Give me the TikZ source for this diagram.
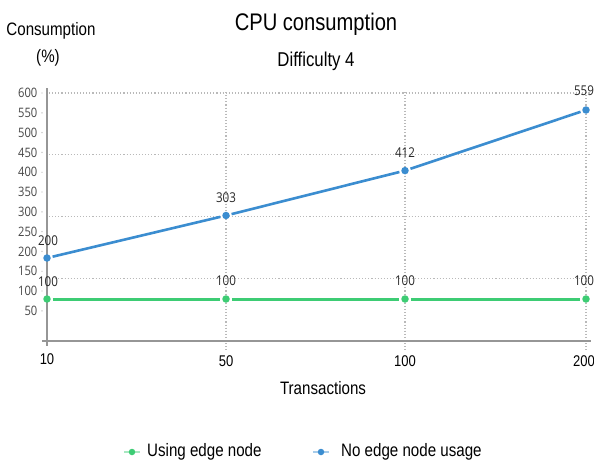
\documentclass[tikz,border=0pt]{standalone}
\usepackage{fontspec}
\setmainfont{Liberation Sans}
\newfontfamily\narrowfont[FakeStretch=0.84]{Liberation Sans}
\newfontfamily\numfont[FakeStretch=0.86]{Open Sans}
\definecolor{lineblue}{RGB}{59,141,208}
\definecolor{linegreen}{RGB}{61,204,116}
\definecolor{axisgray}{RGB}{150,150,150}
\definecolor{gridgray}{RGB}{185,185,185}
\definecolor{ticktext}{RGB}{70,70,70}
\definecolor{valtext}{RGB}{40,40,40}
\tikzset{
  titletext/.style={font=\narrowfont\fontsize{24}{28}\selectfont, text=black, inner sep=0pt},
  subtitletext/.style={font=\narrowfont\fontsize{20}{24}\selectfont, text=black, inner sep=0pt},
  labeltext/.style={font=\narrowfont\fontsize{18}{21}\selectfont, text=black, inner sep=0pt},
  ytick/.style={font=\numfont\fontsize{13}{15}\selectfont, text=ticktext, anchor=east, inner sep=0pt},
  xtick/.style={font=\narrowfont\fontsize{15.5}{17}\selectfont, text=black, inner sep=0pt},
  vallabel/.style={font=\numfont\fontsize{13.5}{15}\selectfont, text=valtext, inner sep=0pt},
  gridline/.style={gridgray, line width=1.1pt, dotted},
  bluedot/.style={circle, fill=lineblue, minimum size=7.5pt, inner sep=0pt, outer sep=2pt},
  greendot/.style={circle, fill=linegreen, minimum size=7.5pt, inner sep=0pt, outer sep=2pt},
  blueline/.style={lineblue, line width=2.6pt},
  greenline/.style={linegreen, line width=3pt},
}
\begin{document}
\begin{tikzpicture}[x=1pt, y=-1pt]
\useasboundingbox[fill=white] (0,0) rectangle (594,463);

% titles
\node[titletext] (title) at (316,24.5) {CPU consumption};
\node[subtitletext] (subtitle) at (316,61) {Difficulty 4};
\node[labeltext] (ylab) at (51,31) {Consumption};
\node[labeltext] (ylabunit) at (48,57.5) {(\%)};

% grid
\foreach \yy in {93,154.8,216.6,278.4}
  \draw[gridline] (49,\yy) -- (590,\yy);
\foreach \xx in {226,405,586}
  \draw[gridline] (\xx,92) -- (\xx,350);

% axes
\coordinate (yaxtop) at (47,88);
\coordinate (yaxbot) at (47,346);
\coordinate (xaxleft) at (42,341);
\coordinate (xaxright) at (591,341);
\draw[axisgray, line width=1.3pt] (yaxtop) -- (yaxbot);
\draw[axisgray, line width=2pt] (xaxleft) -- (xaxright);

% y tick labels
\foreach \v [count=\i from 0] in {600,550,500,450,400,350,300,250,200,150,100,50} {
  \node[ytick] (yt\v) at (37.5,93+19.8*\i) {\v};
  \fill[gridgray] (42,93+19.8*\i) circle (0.7pt);
}

% x tick labels
\node[xtick] (xt10) at (47,359) {10};
\node[xtick] (xt50) at (226,361) {50};
\node[xtick] (xt100) at (405,361) {100};
\node[xtick, anchor=east] (xt200) at (595,361) {200};
\node[labeltext] (xlab) at (323,388) {Transactions};

% data: no edge node usage
\node[bluedot] (b1) at (47,258) {};
\node[bluedot] (b2) at (226,215.5) {};
\node[bluedot] (b3) at (405,170.6) {};
\node[bluedot] (b4) at (586,110) {};
\draw[blueline] (b1) -- (b2) -- (b3) -- (b4);

% data: using edge node
\node[greendot] (g1) at (47,299) {};
\node[greendot] (g2) at (226,299) {};
\node[greendot] (g3) at (405,299) {};
\node[greendot] (g4) at (586,299) {};
\draw[greenline] (g1) -- (g2) -- (g3) -- (g4);

% value labels
\node[vallabel] (vb1) at (48,240.5) {200};
\node[vallabel] (vb2) at (226,197.5) {303};
\node[vallabel] (vb3) at (405,153) {412};
\node[vallabel] (vb4) at (584,91) {559};
\node[vallabel] (vg1) at (48,282) {100};
\node[vallabel] (vg2) at (226,281) {100};
\node[vallabel] (vg3) at (405,281) {100};
\node[vallabel] (vg4) at (584,281) {100};

% legend
\coordinate (lgA) at (124,452);
\coordinate (lgB) at (140,452);
\draw[linegreen!45, line width=1.2pt] (lgA) -- (lgB);
\node[greendot, minimum size=6.5pt] (lgdot) at (132,452) {};
\node[labeltext, anchor=west] (lgtext) at (147,452) {Using edge node};
\coordinate (lbA) at (313,452);
\coordinate (lbB) at (329,452);
\draw[lineblue!45, line width=1.2pt] (lbA) -- (lbB);
\node[bluedot, minimum size=6.5pt] (lbdot) at (321,452) {};
\node[labeltext, anchor=west] (lbtext) at (341,452) {No edge node usage};
\end{tikzpicture}
\end{document}
